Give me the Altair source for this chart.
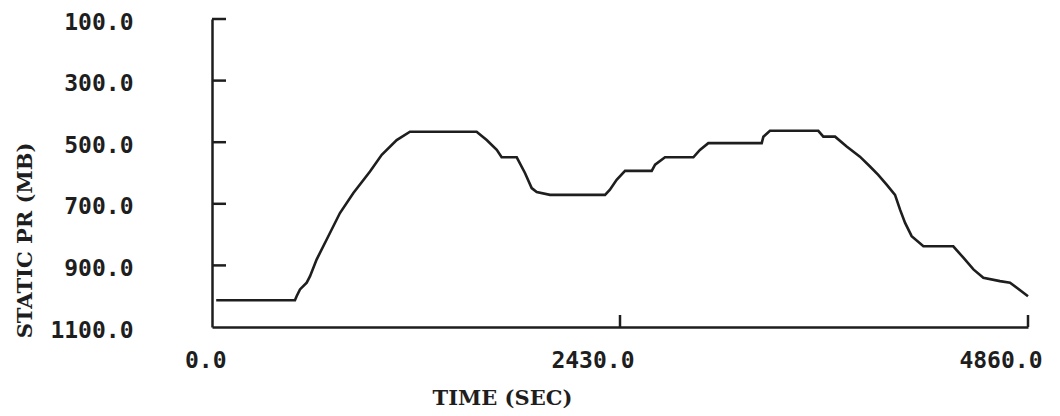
import altair as alt
import pandas as pd

# ---- data ----
time_s = [25, 494, 504, 524, 564, 584, 623, 683, 762, 842,
          941, 1011, 1100, 1179, 1576, 1636, 1696, 1725, 1815, 1864,
          1904, 1934, 2013, 2341, 2370, 2410, 2460, 2619, 2639, 2698,
          2867, 2906, 2956, 3274, 3284, 3323, 3611, 3641, 3711, 3780,
          3859, 3919, 3968, 4018, 4068, 4098, 4128, 4167, 4237, 4415,
          4475, 4535, 4594, 4693, 4753, 4860]
pressure_mb = [1013, 1013, 1000, 978, 956, 935, 881, 816, 730, 665,
               595, 541, 493, 466, 466, 493, 525, 549, 549, 600,
               649, 662, 671, 671, 654, 622, 593, 593, 573, 549,
               549, 525, 503, 503, 482, 463, 463, 482, 482, 514,
               547, 579, 606, 638, 671, 719, 762, 805, 838, 838,
               875, 913, 940, 951, 956, 1000]

y_ticks = [100, 300, 500, 700, 900, 1100]
y_inner_ticks = [100, 300, 500, 700, 900]
x_ticks = [0, 2430, 4860]
x_inner_ticks = [2430, 4860]

W, H = 816, 308
INK = "#1e1e1e"
MONO = "DejaVu Sans Mono"
SERIF = "DejaVu Serif"

df = pd.DataFrame({"t": time_s, "p": pressure_mb})

xscale = alt.Scale(domain=[0, 4860], nice=False, zero=False)
yscale = alt.Scale(domain=[100, 1100], reverse=True, nice=False, zero=False)

line = alt.Chart(df).mark_line(color=INK, strokeWidth=2.6).encode(
    x=alt.X("t:Q", scale=xscale,
            axis=alt.Axis(values=x_ticks, format=".1f", title="TIME (SEC)",
                          ticks=False, grid=False, domain=True,
                          domainColor=INK, domainWidth=2.5,
                          labelFont=MONO, labelFontSize=23, labelFontWeight="bold",
                          labelColor=INK, labelAlign="right", labelOffset=14,
                          labelPadding=22, labelFlush=False,
                          titleFont=SERIF, titleFontSize=21, titleFontWeight="bold",
                          titleColor=INK, titleX=290, titleY=71,
                          titleAlign="center", titleBaseline="middle")),
    y=alt.Y("p:Q", scale=yscale,
            axis=alt.Axis(values=y_ticks, format=".1f", title="STATIC PR (MB)",
                          ticks=False, grid=False, domain=True,
                          domainColor=INK, domainWidth=2.5,
                          labelFont=MONO, labelFontSize=23, labelFontWeight="bold",
                          labelColor=INK, labelPadding=79, labelOffset=3,
                          labelFlush=False,
                          titleFont=SERIF, titleFontSize=21, titleFontWeight="bold",
                          titleColor=INK, titleAngle=270, titleX=-187, titleY=221,
                          titleAlign="center", titleBaseline="middle")),
)

ytick_df = pd.DataFrame({"p": y_inner_ticks})
yticks = alt.Chart(ytick_df).mark_rule(color=INK, strokeWidth=2.5).encode(
    y=alt.Y("p:Q", scale=yscale),
    x=alt.value(0),
    x2=alt.value(14),
)

xtick_df = pd.DataFrame({"t": x_inner_ticks})
xticks = alt.Chart(xtick_df).mark_rule(color=INK, strokeWidth=2.5).encode(
    x=alt.X("t:Q", scale=xscale),
    y=alt.value(H),
    y2=alt.value(H - 12),
)

chart = alt.layer(line, yticks, xticks).properties(
    width=W, height=H,
    autosize=alt.AutoSizeParams(type="none"),
    padding={"left": 212, "top": 19, "right": 32, "bottom": 89},
    background="white",
).configure_view(stroke=None)

chart.save("out.html", embed_options={"renderer": "svg", "actions": False})
